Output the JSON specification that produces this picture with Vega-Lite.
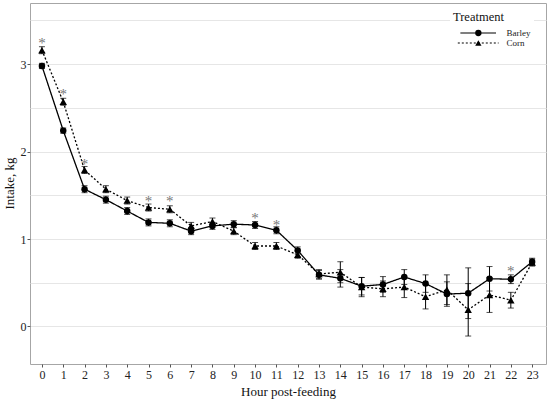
{
  "$schema": "https://vega.github.io/schema/vega-lite/v6.json",
  "width": 516,
  "height": 361,
  "autosize": {"type": "none"},
  "padding": {"left": 30, "top": 3, "right": 4, "bottom": 35},
  "background": "white",
  "config": {
    "view": {"stroke": "#a6a6a6", "strokeWidth": 1},
    "font": "Liberation Serif",
    "axis": {
      "labelFont": "Liberation Serif",
      "titleFont": "Liberation Serif",
      "labelFontSize": 12,
      "titleFontSize": 13,
      "titleFontWeight": "normal",
      "labelColor": "#222",
      "titleColor": "#111",
      "domain": false,
      "tickColor": "#555",
      "tickSize": 3,
      "gridColor": "#e6e6e6",
      "gridWidth": 1
    },
    "legend": {
      "titleFont": "Liberation Serif",
      "titleFontSize": 12.5,
      "titleFontWeight": "normal",
      "titleColor": "#111",
      "titlePadding": 5,
      "labelFont": "Liberation Serif",
      "labelFontSize": 9,
      "labelColor": "#222",
      "padding": 3,
      "rowPadding": 0
    }
  },
  "datasets": {
    "intake": [
      {"hour": 0, "treatment": "Barley", "intake": 2.98, "se": 0.03},
      {"hour": 1, "treatment": "Barley", "intake": 2.24, "se": 0.03},
      {"hour": 2, "treatment": "Barley", "intake": 1.57, "se": 0.04},
      {"hour": 3, "treatment": "Barley", "intake": 1.45, "se": 0.04},
      {"hour": 4, "treatment": "Barley", "intake": 1.32, "se": 0.04},
      {"hour": 5, "treatment": "Barley", "intake": 1.19, "se": 0.04},
      {"hour": 6, "treatment": "Barley", "intake": 1.18, "se": 0.04},
      {"hour": 7, "treatment": "Barley", "intake": 1.09, "se": 0.04},
      {"hour": 8, "treatment": "Barley", "intake": 1.15, "se": 0.04},
      {"hour": 9, "treatment": "Barley", "intake": 1.17, "se": 0.04},
      {"hour": 10, "treatment": "Barley", "intake": 1.16, "se": 0.04},
      {"hour": 11, "treatment": "Barley", "intake": 1.10, "se": 0.04},
      {"hour": 12, "treatment": "Barley", "intake": 0.87, "se": 0.04},
      {"hour": 13, "treatment": "Barley", "intake": 0.59, "se": 0.05},
      {"hour": 14, "treatment": "Barley", "intake": 0.55, "se": 0.10},
      {"hour": 15, "treatment": "Barley", "intake": 0.46, "se": 0.10},
      {"hour": 16, "treatment": "Barley", "intake": 0.48, "se": 0.09},
      {"hour": 17, "treatment": "Barley", "intake": 0.565, "se": 0.085},
      {"hour": 18, "treatment": "Barley", "intake": 0.49, "se": 0.10},
      {"hour": 19, "treatment": "Barley", "intake": 0.37, "se": 0.14},
      {"hour": 20, "treatment": "Barley", "intake": 0.38, "se": 0.29},
      {"hour": 21, "treatment": "Barley", "intake": 0.545, "se": 0.14},
      {"hour": 22, "treatment": "Barley", "intake": 0.54, "se": 0.05},
      {"hour": 23, "treatment": "Barley", "intake": 0.74, "se": 0.04},
      {"hour": 0, "treatment": "Corn", "intake": 3.16, "se": 0.04},
      {"hour": 1, "treatment": "Corn", "intake": 2.57, "se": 0.04},
      {"hour": 2, "treatment": "Corn", "intake": 1.79, "se": 0.04},
      {"hour": 3, "treatment": "Corn", "intake": 1.57, "se": 0.04},
      {"hour": 4, "treatment": "Corn", "intake": 1.44, "se": 0.04},
      {"hour": 5, "treatment": "Corn", "intake": 1.36, "se": 0.04},
      {"hour": 6, "treatment": "Corn", "intake": 1.34, "se": 0.04},
      {"hour": 7, "treatment": "Corn", "intake": 1.15, "se": 0.04},
      {"hour": 8, "treatment": "Corn", "intake": 1.20, "se": 0.04},
      {"hour": 9, "treatment": "Corn", "intake": 1.09, "se": 0.04},
      {"hour": 10, "treatment": "Corn", "intake": 0.92, "se": 0.04},
      {"hour": 11, "treatment": "Corn", "intake": 0.92, "se": 0.04},
      {"hour": 12, "treatment": "Corn", "intake": 0.82, "se": 0.04},
      {"hour": 13, "treatment": "Corn", "intake": 0.60, "se": 0.05},
      {"hour": 14, "treatment": "Corn", "intake": 0.62, "se": 0.12},
      {"hour": 15, "treatment": "Corn", "intake": 0.45, "se": 0.11},
      {"hour": 16, "treatment": "Corn", "intake": 0.43, "se": 0.09},
      {"hour": 17, "treatment": "Corn", "intake": 0.45, "se": 0.12},
      {"hour": 18, "treatment": "Corn", "intake": 0.34, "se": 0.14},
      {"hour": 19, "treatment": "Corn", "intake": 0.42, "se": 0.17},
      {"hour": 20, "treatment": "Corn", "intake": 0.19, "se": 0.30},
      {"hour": 21, "treatment": "Corn", "intake": 0.36, "se": 0.20},
      {"hour": 22, "treatment": "Corn", "intake": 0.30, "se": 0.09},
      {"hour": 23, "treatment": "Corn", "intake": 0.73, "se": 0.04}
    ],
    "stars": [
      {"hour": 0, "intake": 3.28},
      {"hour": 1, "intake": 2.69},
      {"hour": 2, "intake": 1.89},
      {"hour": 5, "intake": 1.47},
      {"hour": 6, "intake": 1.47},
      {"hour": 10, "intake": 1.27},
      {"hour": 11, "intake": 1.20},
      {"hour": 22, "intake": 0.67}
    ]
  },
  "encoding": {
    "x": {
      "field": "hour",
      "type": "quantitative",
      "scale": {"domain": [-0.56, 23.65], "nice": false, "zero": false},
      "axis": {
        "title": "Hour post-feeding",
        "values": [0,1,2,3,4,5,6,7,8,9,10,11,12,13,14,15,16,17,18,19,20,21,22,23],
        "grid": false,
        "labelPadding": 2,
        "titlePadding": 5,
        "labelFlush": false
      }
    },
    "y": {
      "field": "intake",
      "type": "quantitative",
      "scale": {"domain": [-0.43, 3.7], "nice": false, "zero": false},
      "axis": {
        "title": "Intake, kg",
        "values": [0, 0.5, 1, 1.5, 2, 2.5, 3, 3.5],
        "labelExpr": "datum.value % 1 === 0 ? format(datum.value, 'd') : ''",
        "tickOpacity": {"condition": {"test": "datum.value % 1 !== 0", "value": 0}, "value": 1},
        "grid": true,
        "labelPadding": 1,
        "titleX": -21,
        "titleY": 180,
        "titleAngle": -90,
        "titleAlign": "center",
        "titleBaseline": "middle",
        "labelFlush": false
      }
    }
  },
  "layer": [
    {
      "data": {"name": "intake"},
      "mark": {"type": "errorbar", "color": "black", "ticks": {"size": 6, "thickness": 1}, "rule": {"strokeWidth": 1}},
      "encoding": {
        "yError": {"field": "se"},
        "detail": {"field": "treatment", "type": "nominal"}
      }
    },
    {
      "data": {"name": "intake"},
      "mark": {"type": "line", "color": "black", "strokeWidth": 1.3},
      "encoding": {
        "strokeDash": {
          "field": "treatment",
          "type": "nominal",
          "scale": {"domain": ["Barley", "Corn"], "range": [[1, 0], [2, 2]]},
          "legend": {
            "orient": "none",
            "legendX": 420,
            "legendY": 5,
            "title": "Treatment",
            "symbolType": "M-5.5,0L5.5,0",
            "symbolSize": 29.4,
            "symbolOffset": 20.7,
            "labelOffset": 23.7,
            "symbolStrokeWidth": 1.2,
            "symbolStrokeColor": "black",
            "fillColor": "white"
          }
        }
      }
    },
    {
      "data": {"name": "intake"},
      "mark": {"type": "point", "filled": true, "color": "black", "opacity": 1},
      "encoding": {
        "shape": {
          "field": "treatment",
          "type": "nominal",
          "scale": {"range": ["circle", "triangle-up"]},
          "legend": {
            "orient": "none",
            "legendX": 420,
            "legendY": 5,
            "title": "Treatment",
            "titleColor": "transparent",
            "labelColor": "transparent",
            "labelExpr": "' '",
            "symbolSize": 40,
            "symbolOffset": 20.84,
            "symbolFillColor": "black",
            "symbolStrokeColor": "black",
            "symbolStrokeWidth": 0
          }
        },
        "size": {
          "field": "treatment",
          "type": "nominal",
          "scale": {"domain": ["Barley", "Corn"], "range": [42, 55]},
          "legend": null
        }
      }
    },
    {
      "data": {"name": "stars"},
      "mark": {"type": "text", "text": "*", "fontSize": 15, "color": "#777", "baseline": "middle", "dy": 3}
    }
  ]
}
